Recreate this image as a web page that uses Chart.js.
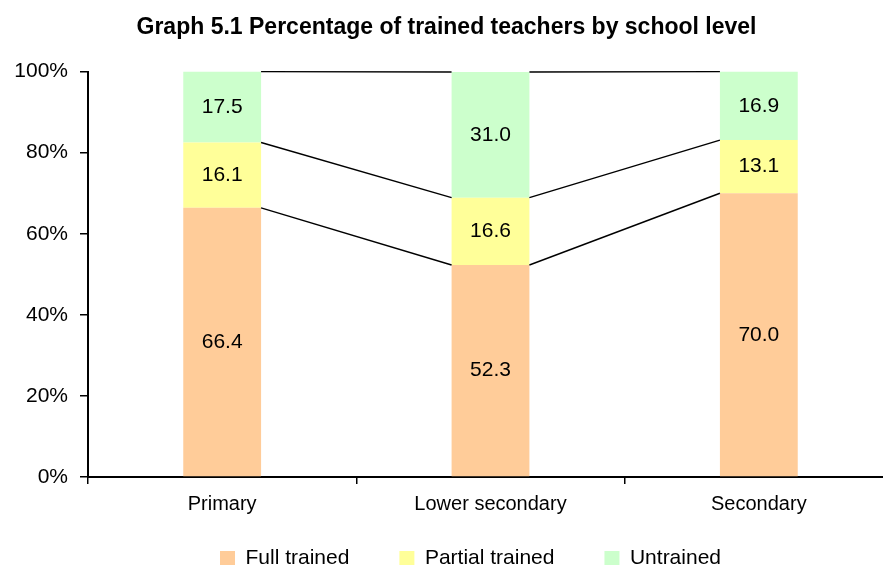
<!DOCTYPE html>
<html>
<head>
<meta charset="utf-8">
<script src="https://cdn.jsdelivr.net/npm/chart.js@4"></script>
<style>
  html, body { margin: 0; padding: 0; background: #fff; overflow: hidden; }
  #wrap { width: 883px; height: 565px; overflow: hidden; }
</style>
</head>
<body>
<div id="wrap"><canvas id="chart" width="893" height="603"></canvas></div>
<script>
// niveles escolares y porcentajes
const niveles = ["Primary", "Lower secondary", "Secondary"];
const fullTrained = [66.4, 52.3, 70.0];
const partialTrained = [16.1, 16.6, 13.1];
const untrained = [17.5, 31.0, 16.9];
const yTicks = [0, 20, 40, 60, 80, 100];

// etiquetas dentro de las barras y lineas entre series
const barExtras = {
  id: "barExtras",
  afterUpdate(chart) {
    // mover la leyenda un poco (como en el original)
    const lg = chart.legend;
    lg.left += 24; lg.right += 24;
    lg.top -= 24; lg.bottom -= 24;
  },
  afterDatasetsDraw(chart) {
    const ctx = chart.ctx;
    ctx.save();
    ctx.strokeStyle = "#000";
    ctx.lineWidth = 1.4;
    chart.data.datasets.forEach((ds, di) => {
      const meta = chart.getDatasetMeta(di);
      for (let i = 0; i < meta.data.length - 1; i++) {
        const a = meta.data[i], b = meta.data[i + 1];
        ctx.beginPath();
        ctx.moveTo(a.x + a.width / 2, a.y);
        ctx.lineTo(b.x - b.width / 2, b.y);
        ctx.stroke();
      }
    });
    ctx.fillStyle = "#000";
    ctx.font = "21px 'Liberation Sans', Arial, sans-serif";
    ctx.textAlign = "center";
    ctx.textBaseline = "middle";
    chart.data.datasets.forEach((ds, di) => {
      const meta = chart.getDatasetMeta(di);
      meta.data.forEach((bar, i) => {
        ctx.fillText(ds.data[i].toFixed(1), bar.x, (bar.y + bar.base) / 2);
      });
    });
    ctx.restore();
  }
};

const ctx = document.getElementById("chart").getContext("2d");
const chart = new Chart(ctx, {
  type: "bar",
  data: {
    labels: niveles,
    datasets: [
      { label: "Full trained", data: fullTrained, backgroundColor: "#FFCC99" },
      { label: "Partial trained", data: partialTrained, backgroundColor: "#FFFF99" },
      { label: "Untrained", data: untrained, backgroundColor: "#CCFFCC" }
    ]
  },
  options: {
    responsive: false,
    animation: false,
    barPercentage: 0.58,
    categoryPercentage: 0.5,
    plugins: {
      title: {
        display: true,
        text: "Graph 5.1 Percentage of trained teachers by school level",
        color: "#000",
        font: { family: "'Liberation Sans', Arial", size: 23, weight: "bold" },
        padding: { top: 14, bottom: 30 }
      },
      legend: {
        position: "bottom",
        labels: {
          color: "#000",
          boxWidth: 15,
          boxHeight: 15,
          padding: 50,
          font: { family: "'Liberation Sans', Arial", size: 21 }
        }
      },
      tooltip: { enabled: false }
    },
    scales: {
      x: {
        stacked: true,
        offset: true,
        grid: { offset: true, drawOnChartArea: false, color: "#000", tickLength: 7, lineWidth: 1.5 },
        border: { color: "#000", width: 2 },
        ticks: {
          color: "#000",
          padding: 8,
          font: { family: "'Liberation Sans', Arial", size: 20 }
        },
        afterFit(scale) { scale.height = 45; }
      },
      y: {
        stacked: true,
        min: 0,
        max: 100,
        afterBuildTicks(scale) { scale.ticks = yTicks.map(v => ({ value: v })); },
        grid: { drawOnChartArea: false, color: "#000", tickLength: 8, lineWidth: 1.5 },
        border: { color: "#000", width: 2 },
        ticks: {
          color: "#000",
          padding: 12,
          callback: v => v + "%",
          font: { family: "'Liberation Sans', Arial", size: 21 }
        },
        afterFit(scale) { scale.width = 88; }
      }
    }
  },
  plugins: [barExtras]
});
</script>
</body>
</html>
